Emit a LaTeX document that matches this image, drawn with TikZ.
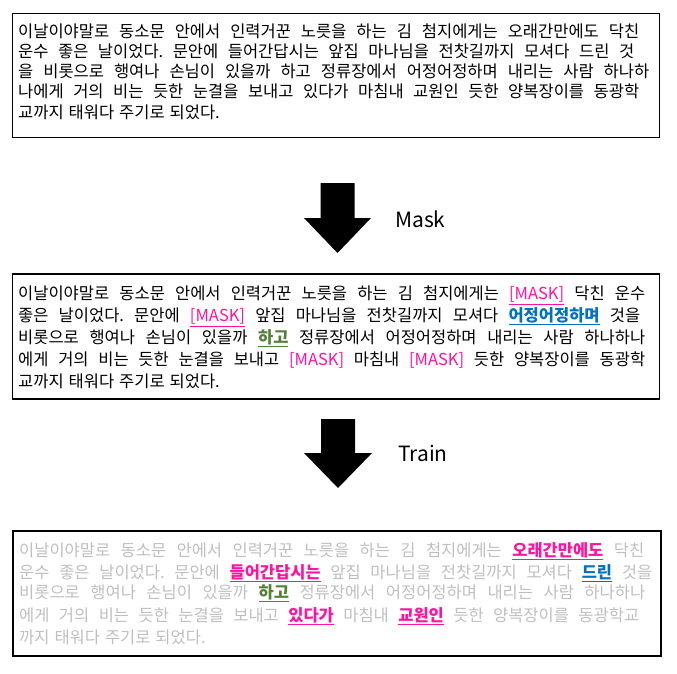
\documentclass[tikz,border=0pt]{standalone}
\usepackage{fontspec}
\setmainfont{Noto Sans CJK KR}
\definecolor{mpink}{RGB}{255,20,160}
\definecolor{mblue}{RGB}{0,112,192}
\definecolor{mgreen}{RGB}{84,130,53}
\definecolor{mgray}{RGB}{191,191,191}
\newcommand\hlu[2]{\textcolor{#1}{\underline{#2}}}
\newcommand\hlb[2]{\textcolor{#1}{\underline{\textbf{#2}}}}
\newcommand\jline[2]{\hbox to #1{\frenchspacing\spaceskip=0.25em plus 1fil\relax #2}}
\newcommand\nline[1]{\hbox{\frenchspacing\spaceskip=0.3em plus 1fil\relax #1}}
\begin{document}
\begin{tikzpicture}[x=1pt,y=-1pt,
  txt/.style={anchor=base west,inner sep=0pt,font=\fontsize{16.5}{18}\selectfont},
  panel/.style={draw=black,line width=1.2pt,inner sep=0pt},
  lab/.style={anchor=west,inner sep=0pt,font=\fontsize{21}{24}\selectfont}]
\useasboundingbox (0,0) rectangle (677,674);
% panels
\node[panel,minimum width=647pt,minimum height=123.5pt] (b1) at (336,75.5) {};
\node[panel,minimum width=647pt,minimum height=125pt] (b2) at (336,336.5) {};
\node[panel,minimum width=648pt,minimum height=125pt] (b3) at (337,593.5) {};
% box 1
\node[txt] (a1) at (18,37.5) {\jline{621pt}{이날이야말로 동소문 안에서 인력거꾼 노릇을 하는 김 첨지에게는 오래간만에도 닥친}};
\node[txt] (a2) at (18,57.5) {\jline{616pt}{운수 좋은 날이었다. 문안에 들어간답시는 앞집 마나님을 전찻길까지 모셔다 드린 것}};
\node[txt] (a3) at (18,77.5) {\jline{631pt}{을 비롯으로 행여나 손님이 있을까 하고 정류장에서 어정어정하며 내리는 사람 하나하}};
\node[txt] (a4) at (18,98) {\jline{621pt}{나에게 거의 비는 듯한 눈결을 보내고 있다가 마침내 교원인 듯한 양복장이를 동광학}};
\node[txt] (a5) at (18,118.5) {\nline{교까지 태워다 주기로 되었다.}};
% arrow 1
\fill[black] (320.5,183) -- (354.5,183) -- (354.5,218) -- (371,218) -- (337.5,253) -- (304,218) -- (320.5,218) -- cycle;
\node[lab] (mask) at (395,219) {Mask};
% box 2
\node[txt] (m1) at (18,299.5) {\jline{627pt}{이날이야말로 동소문 안에서 인력거꾼 노릇을 하는 김 첨지에게는 \hlu{mpink}{[MASK]} 닥친 운수}};
\node[txt] (m2) at (18,321.5) {\jline{622pt}{좋은 날이었다. 문안에 \hlu{mpink}{[MASK]} 앞집 마나님을 전찻길까지 모셔다 \hlb{mblue}{어정어정하며} 것을}};
\node[txt] (m3) at (18,343.5) {\jline{627pt}{비롯으로 행여나 손님이 있을까 \hlb{mgreen}{하고} 정류장에서 어정어정하며 내리는 사람 하나하나}};
\node[txt] (m4) at (18,365.5) {\jline{627pt}{에게 거의 비는 듯한 눈결을 보내고 \textcolor{mpink}{[MASK]} 마침내 \textcolor{mpink}{[MASK]} 듯한 양복장이를 동광학}};
\node[txt] (m5) at (18,387.5) {\nline{교까지 태워다 주기로 되었다.}};
% arrow 2
\fill[black] (321,419) -- (355,419) -- (355,453) -- (372,453) -- (338,488) -- (304,453) -- (321,453) -- cycle;
\node[lab] (train) at (398,453) {Train};
% box 3
\node[txt,text=mgray] (t1) at (19,556.5) {\jline{625pt}{이날이야말로 동소문 안에서 인력거꾼 노릇을 하는 김 첨지에게는 \hlb{mpink}{오래간만에도} 닥친}};
\node[txt,text=mgray] (t2) at (19,578.5) {\jline{633pt}{운수 좋은 날이었다. 문안에 \hlb{mpink}{들어간답시는} 앞집 마나님을 전찻길까지 모셔다 \hlb{mblue}{드린} 것을}};
\node[txt,text=mgray] (t3) at (19,598.5) {\jline{626pt}{비롯으로 행여나 손님이 있을까 \hlb{mgreen}{하고} 정류장에서 어정어정하며 내리는 사람 하나하나}};
\node[txt,text=mgray] (t4) at (19,621.5) {\jline{620pt}{에게 거의 비는 듯한 눈결을 보내고 \hlb{mpink}{있다가} 마침내 \hlb{mpink}{교원인} 듯한 양복장이를 동광학교}};
\node[txt,text=mgray] (t5) at (19,643.5) {\nline{까지 태워다 주기로 되었다.}};
\end{tikzpicture}
\end{document}
